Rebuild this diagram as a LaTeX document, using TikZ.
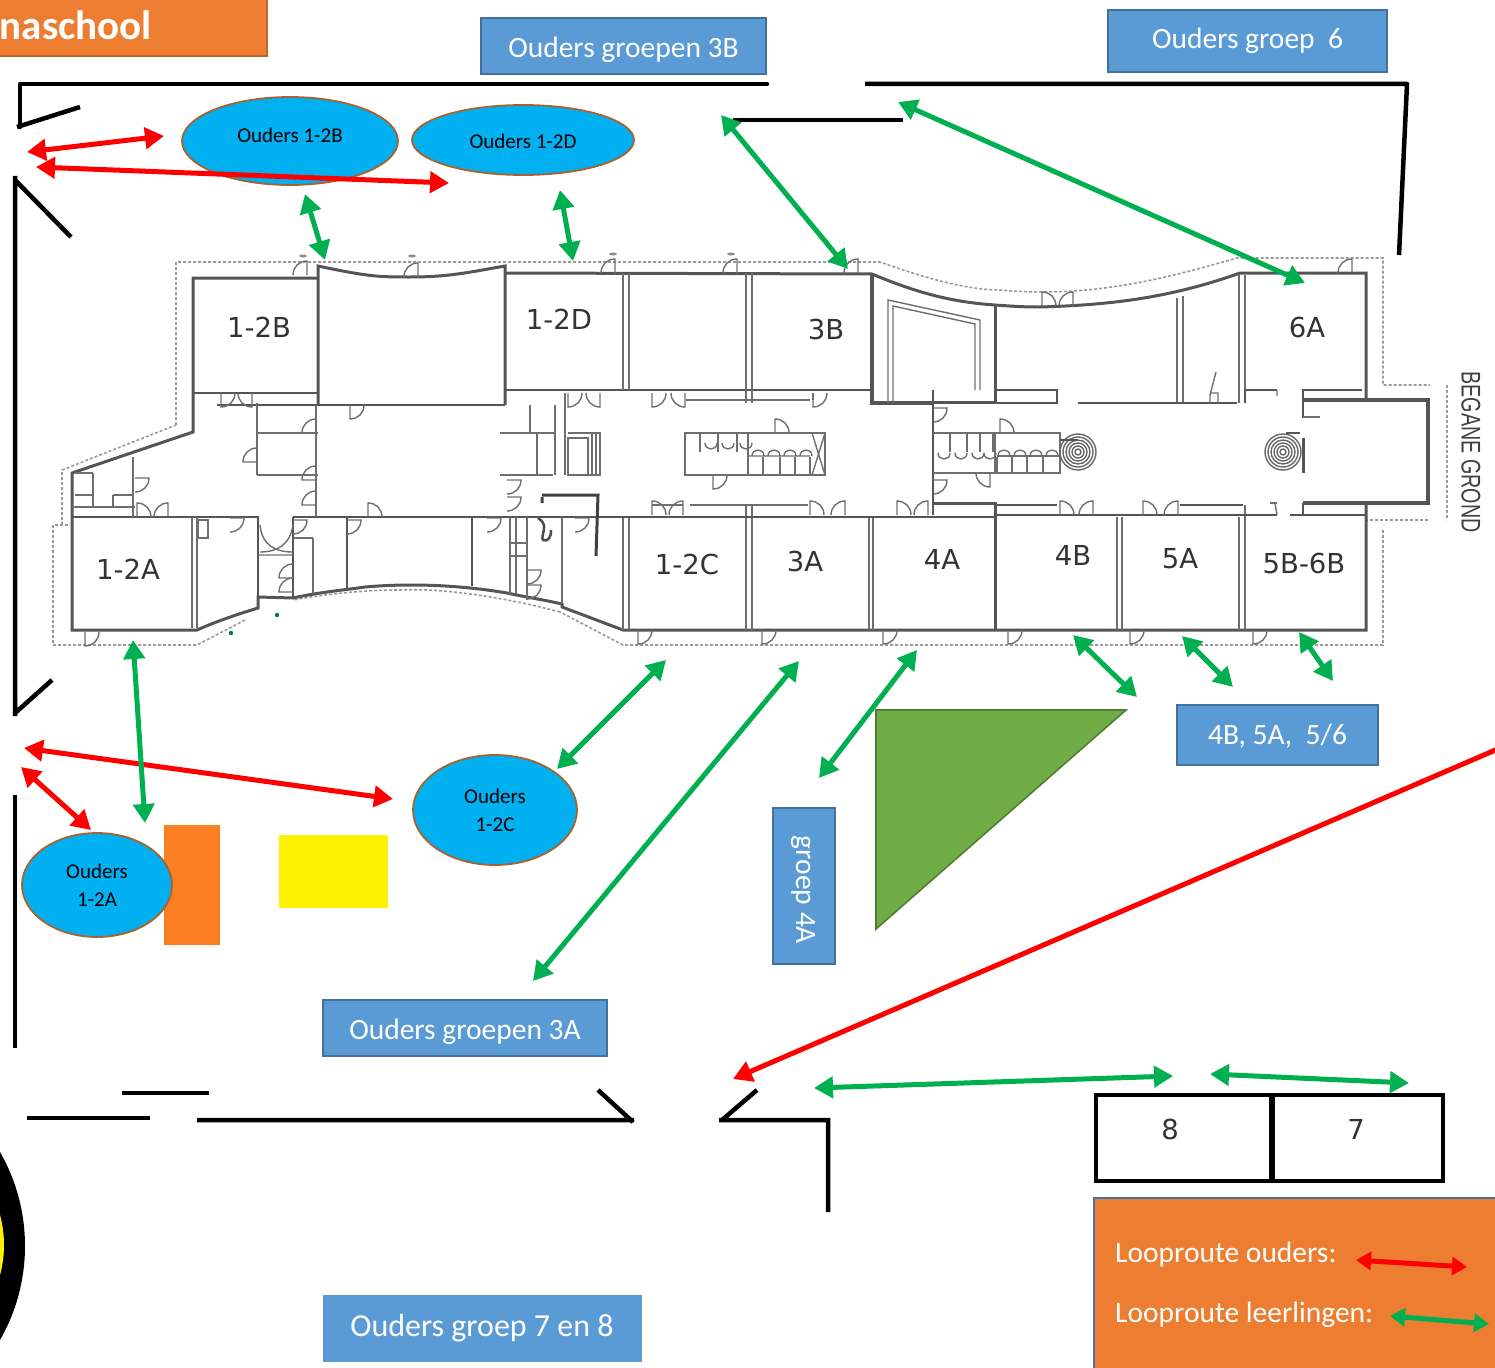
\documentclass[tikz,border=0pt]{standalone}
\usepackage{fontspec}
\setmainfont{Carlito}
\newfontfamily\planfont{DejaVu Sans}
\newfontfamily\narrowfont{Liberation Sans}
\usetikzlibrary{arrows.meta,shapes.geometric}
\definecolor{boxblue}{HTML}{5B9BD5}
\definecolor{boxblueline}{HTML}{41719C}
\definecolor{legorange}{HTML}{ED7D31}
\definecolor{legorangeline}{HTML}{C0652A}
\definecolor{ovalblue}{HTML}{00B0F0}
\definecolor{ovalline}{HTML}{A9622D}
\definecolor{routegreen}{HTML}{00B050}
\definecolor{routered}{HTML}{FF0000}
\definecolor{tricol}{HTML}{70AD47}
\definecolor{triline}{HTML}{507E32}
\definecolor{wallgray}{HTML}{555555}
\definecolor{thingray}{HTML}{6E6E6E}
\definecolor{dashgray}{HTML}{9A9A9A}
\definecolor{blockorange}{HTML}{FD7F23}
\definecolor{blockyellow}{HTML}{FFF200}
\tikzset{
  bluebox/.style={draw=boxblueline,line width=1.6pt,fill=boxblue,text=white,minimum width=#1,inner sep=0pt},
  boxtext/.style={text=white,inner sep=0pt,font=\fontsize{29.5}{34}\selectfont},
  oval/.style={ellipse,draw=ovalline,line width=1.8pt,fill=ovalblue,inner sep=0pt,align=center,font=\fontsize{21}{28}\selectfont},
  blackwall/.style={line width=4.5pt,black},
  routeg/.style={line width=5pt,routegreen,{Triangle[length=19pt,width=21pt]}-{Triangle[length=19pt,width=21pt]}},
  router/.style={line width=5pt,routered,{Triangle[length=19pt,width=21pt]}-{Triangle[length=19pt,width=21pt]}},
  wallm/.style={line width=3pt,wallgray},
  midwall/.style={line width=2.2pt,wallgray},
  thinw/.style={line width=1.4pt,thingray},
  outl/.style={line width=1.6pt,dashgray,dash pattern=on 3pt off 2pt},
  room/.style={font=\planfont\fontsize{27.5}{32}\selectfont,text=black!80,inner sep=0pt},
}
\newcommand{\doorat}[4]{\draw[thinw,shift={(#1,#2)},rotate=#3,xscale=#4] (0,0)--(0,-14) .. controls (8,-14) and (14,-8) .. (14,0);}
\newcommand{\cupat}[3]{\draw[thinw] (#1,#2) .. controls (#1,#2+#3) and (#1+12,#2+#3) .. (#1+12,#2);}
\begin{document}
\begin{tikzpicture}[x=1pt,y=-1pt]
\useasboundingbox (0,0) rectangle (1495,1367);
\begin{scope}
\clip (0,0) rectangle (1495,1367);

% ---------- floor plan: dashed outline
\draw[outl] (176,425)--(176,262)--(880,262) .. controls (930,280) and (970,290) .. (1000,290)
  .. controls (1090,298) and (1160,280) .. (1237,258)--(1383,258)--(1383,385)--(1430,385);
\draw[outl] (1447,385)--(1447,520);
\draw[outl] (1365,520)--(1430,520);
\draw[outl] (1383,530)--(1383,645)--(623,645)--(560,612);
\draw[outl] (560,612) .. controls (500,596) and (440,588) .. (400,590) .. controls (360,590) and (320,595) .. (293,600);
\draw[outl] (245,620)--(197,645)--(53,645)--(53,525)--(70,525);
\draw[outl] (62,525)--(62,470)--(176,425);

% ---------- floor plan: outer walls
\draw[wallm] (318,278)--(193,278)--(193,432)--(72,473)--(72,630)--(197,630)
  .. controls (215,622) and (235,615) .. (258,608)--(258,597)--(293,598)
  .. controls (320,592) and (345,590) .. (365,587) .. controls (410,583) and (460,585) .. (507,593)
  .. controls (525,597) and (545,600) .. (562,604)--(562,607)--(623,630)--(1366,630)--(1366,505)
  (1366,398)--(1366,273)--(1240,273)
  .. controls (1170,298) and (1110,305) .. (1040,307) .. controls (1020,307) and (1010,306) .. (995,305)
  .. controls (950,302) and (915,292) .. (872,274)--(505,273);
\draw[line width=4pt,wallgray] (1303,400)--(1428,400)--(1428,503)--(1303,503);
\draw[wallm] (318,405)--(318,266) .. controls (370,277) and (380,277) .. (410,277) .. controls (450,277) and (470,272) .. (505,266)--(505,405);
\draw[line width=4pt,wallgray] (872,274)--(872,403)--(933,403);
\draw[wallm] (995,305)--(995,402)--(933,402);
\draw[wallm] (933,503)--(995,503)--(995,630);
\draw[midwall] (193,393)--(318,393);
\draw[midwall] (505,390)--(872,390);
\draw[midwall] (257,405)--(505,405);

% ---------- floor plan: partitions
\draw[thinw] (623,273)--(623,390) (629,273)--(629,390) (746,273)--(746,403) (752,273)--(752,403);
\draw[thinw] (623,517)--(623,630) (629,517)--(629,630) (746,506)--(746,630) (752,506)--(752,630);
\draw[thinw] (869,517)--(869,630) (873,517)--(873,630) (1117,517)--(1117,630) (1122,517)--(1122,630);
\draw[thinw] (1239,517)--(1239,630) (1245,505)--(1245,630);
\draw[thinw] (1177,298)--(1177,403) (1183,296)--(1183,403) (1239,275)--(1239,403) (1245,275)--(1245,403);
\draw[midwall] (1078,403)--(1237,403) (1245,403)--(1245,390)--(1277,390);
\draw[midwall] (1303,418)--(1303,390)--(1362,390);
\draw[line width=3pt,wallgray] (1303,438)--(1303,473);
\draw[midwall] (1303,503)--(1303,515) (1290,515)--(1366,515);
\draw[midwall] (997,515)--(1277,515) (997,505)--(1057,505) (1180,505)--(1243,505);
\draw[midwall] (997,390)--(1057,390)--(1057,403)--(997,403);
\draw[thinw] (888,403)--(888,300)--(980,320)--(980,390) (893,403)--(893,306)--(975,324)--(975,390);
\draw[midwall] (933,390)--(933,515);
\draw[midwall] (293,517)--(997,517);
\draw[thinw] (686,400)--(810,400) (813,400)--(813,393);
\draw[thinw] (652,505)--(683,505) (690,505)--(808,505);
% left zones
\draw[midwall] (72,517)--(258,517)--(258,597) (293,517)--(293,598);
\draw[thinw] (192,517)--(192,628) (197,517)--(197,628) (313,538)--(313,594) (293,538)--(313,538);
\draw[thinw] (198,520) rectangle (208,538);
\draw[thinw] (260,525) .. controls (262,545) and (275,552) .. (293,552) (293,525) .. controls (290,545) and (277,552) .. (260,552) (258,555)--(293,555);
\draw[midwall] (347,517)--(347,590) (472,517)--(472,586);
\draw[thinw] (510,517)--(510,594) (516,517)--(516,594) (527,517)--(527,600) (562,517)--(562,604);
\draw[thinw] (510,543)--(527,543) (510,556)--(527,556);
\draw[thinw] (72,507)--(135,507) (133,457)--(133,517) (93,473)--(93,507) (75,473)--(93,473) (75,495)--(93,495) (113,495)--(133,495) (113,495)--(113,507);
\draw[midwall] (217,405)--(318,405);
\draw[thinw] (257,403)--(257,475) (257,433)--(318,433) (257,475)--(318,475) (316,405)--(316,517);
\draw[thinw] (500,433)--(555,433) (500,475)--(553,475) (537,433)--(537,475) (555,405)--(555,433) (555,433)--(555,475) (565,393)--(565,475) (530,405)--(530,433);
\draw[thinw] (568,433)--(600,433)--(600,475)--(588,475)--(588,438)--(568,438)--(568,475)--(588,475);
\draw[thinw] (592,433)--(592,475) (596,433)--(596,475);
\draw[line width=3pt,black!75] (542,497)--(542,503) (542,495)--(598,495)--(596,556);
\draw[line width=2.5pt,black!70] (538,518) .. controls (550,525) and (540,535) .. (543,540) .. controls (548,543) and (552,535) .. (551,530);
% toilet blocks
\draw[thinw] (685,433)--(825,433)--(825,475)--(685,475)--cycle (748,433)--(748,475);
\foreach \xa in {700,718,737} \draw[thinw] (\xa,433)--(\xa,452);
\foreach \xa in {763,780,795,810} \draw[thinw] (\xa,457)--(\xa,475);
\draw[thinw] (748,456)--(810,456) (812,433)--(825,475) (825,433)--(812,475);
\draw[thinw] (933,433)--(1060,433)--(1060,473)--(933,473);
\foreach \xa in {950,967,980,993} \draw[thinw] (\xa,433)--(\xa,452);
\foreach \xa in {997,1012,1027,1043} \draw[thinw] (\xa,457)--(\xa,473);
\draw[thinw] (995,433)--(995,473) (997,456)--(1060,456);
\foreach \ra in {3,6,9,12,15,18} {
  \draw[line width=1.4pt,black!60] (1078,452) circle (\ra);
  \draw[line width=1.4pt,black!60] (1283,452) circle (\ra);
}
\draw[line width=2pt,wallgray] (1060,440)--(1078,440) (1300,433)--(1286,433);
\draw[thinw] (1216,372)--(1210,395)--(1210,403) (1210,393)--(1218,393)--(1218,403);

% ---------- floor plan: doors
\foreach \xa/\ya in {307/275,418/277,615/273,737/273,858/273,1352/273} {\doorat{\xa}{\ya}{0}{-1}}
\foreach \xa/\ya in {638/630,762/630,883/630,1008/630,1130/630,1253/630,85/632} {\doorat{\xa}{\ya}{180}{-1}}
\foreach \xa/\ya in {221/393,568/393,652/393,813/393,350/405,713/475} {\doorat{\xa}{\ya}{180}{-1}}
\foreach \xa/\ya in {252/393,600/393,685/393,990/473} {\doorat{\xa}{\ya}{180}{1}}
\foreach \xa/\ya in {137/517,652/515,810/515,897/515,1060/515,1143/515,1042/306,368/517,775/433,1000/433} {\doorat{\xa}{\ya}{0}{1}}
\foreach \xa/\ya in {168/517,683/515,845/515,928/515,1093/515,1178/515,1073/306} {\doorat{\xa}{\ya}{0}{-1}}
\foreach \xa/\ya in {316/433,257/462,316/480,316/505,293/578,293/592} {\doorat{\xa}{\ya}{90}{1}}
\foreach \xa/\ya in {135/478,230/518,293/520,347/520,487/518,575/518,507/480,507/497,527/570,527/585,933/408,933/480} {\doorat{\xa}{\ya}{270}{1}}
\foreach \xa in {705,722,740} {\cupat{\xa}{443}{8}}
\foreach \xa in {752,768,784,800} {\cupat{\xa}{456}{-8}}
\foreach \xa in {938,955,972,984} {\cupat{\xa}{453}{8}}
\foreach \xa in {998,1014,1030,1046} {\cupat{\xa}{456}{-8}}
\draw[thinw] (1277,390)--(1277,396) (1275,503)--(1277,515);
\draw[thinw] (1303,417)--(1320,417) (1270,503)--(1277,503);
\foreach \xa/\ya in {303/256,412/256,613/254,731/254} {\fill[black!45] (\xa,\ya) ellipse (4 and 1.5);}
\fill[routegreen!70!black] (277,615) circle (2.2) (231,633) circle (2.2);

% ---------- room labels
\node[room] (r12b) at (259,327) {1-2B};
\node[room] (r12d) at (559,319) {1-2D};
\node[room] (r3b) at (826,329) {3B};
\node[room] (r6a) at (1307,327) {6A};
\node[room] (r12a) at (128,569) {1-2A};
\node[room] (r12c) at (687,564) {1-2C};
\node[room] (r3a) at (805,561) {3A};
\node[room] (r4a) at (942,559) {4A};
\node[room] (r4b) at (1073,555) {4B};
\node[room] (r5a) at (1180,559) {5A};
\node[room] (r56) at (1304,563) {5B-6B};
\node[rotate=-90,text=black!75,inner sep=0pt,font=\narrowfont\fontsize{27}{30}\selectfont,xscale=.73] (gg) at (1471,452) {BEGANE GROND};
\node[room] (n8) at (1170,1129) {8};
\node[room] (n7) at (1356,1129) {7};

% ---------- schoolyard walls
\draw[blackwall,line cap=round,line join=round] (20,127)--(20,84)--(767,84);
\draw[blackwall] (17,127)--(80,107);
\draw[blackwall,line join=round] (865,84)--(1407,84)--(1399,255);
\draw[blackwall] (733,120)--(903,120);
\draw[blackwall] (15,176)--(15,716) (15,180)--(71,237) (14,714)--(52,680);
\draw[blackwall] (15,795)--(15,1048);
\draw[blackwall] (27,1118)--(150,1118) (122,1093)--(209,1093);
\draw[blackwall] (197,1120)--(634,1120) (633,1122)--(598,1090);
\draw[blackwall,line join=miter] (719,1120)--(828,1120)--(828,1212) (722,1120)--(757,1090);
\draw[line width=4.5pt,black] (1096,1095) rectangle (1443,1181);
\draw[line width=6pt,black] (1272,1095)--(1272,1181);

% ---------- shapes
\fill[black] (-164,1246) circle (189);
\fill[blockyellow] (-110,1245) circle (114);
\fill[blockorange] (164,825) rectangle (220,945);
\fill[blockyellow] (279,835) rectangle (388,908);
\draw[triline,line width=1.6pt,fill=tricol] (876,710)--(1126,710)--(876,929)--cycle;

% ---------- boxes
\draw[draw=legorangeline,line width=2pt,fill=legorange] (-6,-6) rectangle (267,56);
\node[anchor=east,text=white,inner sep=0pt,font=\bfseries\fontsize{41}{46}\selectfont] (title) at (152,25) {naschool};
\node[bluebox=285pt,minimum height=56pt] (b3b) at (623.5,46) {};
\node[boxtext] (t3b) at (623.5,49.5) {Ouders groepen 3B};
\node[bluebox=279pt,minimum height=62pt] (b6) at (1247.5,41) {};
\node[boxtext] (t6) at (1247.5,40.5) {Ouders groep\ \ 6};
\node[bluebox=201pt,minimum height=60pt] (b456) at (1277.5,735) {};
\node[boxtext] (t456) at (1277.5,736.5) {4B, 5A,\ \ 5/6};
\node[bluebox=62pt,minimum height=156pt] (b4a) at (804,886) {};
\node[boxtext,rotate=-90] (t4a) at (803,890) {groep 4A};
\node[bluebox=284pt,minimum height=56pt] (b3a) at (465,1028) {};
\node[boxtext] (t3a) at (465,1031.5) {Ouders groepen 3A};
\node[draw=boxblue,fill=boxblue,minimum width=318pt,minimum height=66pt,inner sep=0pt] (b78) at (482,1328) {};
\node[boxtext,font=\fontsize{32}{36}\selectfont] (t78) at (482,1328.5) {Ouders groep 7 en 8};
\draw[draw=boxblueline,line width=1.6pt,fill=legorange] (1094,1198) rectangle (1510,1380);
\node[boxtext,anchor=west] (lo) at (1115,1254.5) {Looproute ouders:};
\node[boxtext,anchor=west] (ll) at (1115,1314.5) {Looproute leerlingen:};

% ---------- ovals
\node[oval,minimum width=216pt,minimum height=88pt] (o2b) at (290,141) {};
\node[font=\fontsize{21}{24}\selectfont,inner sep=0pt] (o2bt) at (290,135) {Ouders 1-2B};
\node[oval,minimum width=222pt,minimum height=70pt] (o2d) at (523,140) {};
\node[font=\fontsize{21}{24}\selectfont,inner sep=0pt] (o2dt) at (523,141) {Ouders 1-2D};
\node[oval,minimum width=164pt,minimum height=110pt] (o2c) at (495,810) {Ouders\\1-2C};
\node[oval,minimum width=150pt,minimum height=104pt] (o2a) at (97,885) {Ouders\\1-2A};

% ---------- route ends
\coordinate (ra1) at (27,152);   \coordinate (ra2) at (164,136);
\coordinate (rb1) at (36,167);   \coordinate (rb2) at (449,183);
\coordinate (rc1) at (24,748);   \coordinate (rc2) at (393,799);
\coordinate (rd1) at (21,767);   \coordinate (rd2) at (91,830);
\coordinate (re1) at (733,1079); \coordinate (re2) at (1500,748);
\coordinate (rf1) at (1356,1260);\coordinate (rf2) at (1467,1267);
\coordinate (gf1) at (1390,1316);\coordinate (gf2) at (1489,1324);
\coordinate (g1a) at (305,194);  \coordinate (g1b) at (325,260);
\coordinate (g2a) at (560,190);  \coordinate (g2b) at (573,261);
\coordinate (g3a) at (721,115);  \coordinate (g3b) at (848,269);
\coordinate (g4a) at (898,102);  \coordinate (g4b) at (1305,283);
\coordinate (g5a) at (133,640);  \coordinate (g5b) at (145,823);
\coordinate (g6a) at (666,660);  \coordinate (g6b) at (557,769);
\coordinate (g7a) at (799,661);  \coordinate (g7b) at (533,981);
\coordinate (g8a) at (917,650);  \coordinate (g8b) at (819,778);
\coordinate (g9a) at (1073,635); \coordinate (g9b) at (1137,697);
\coordinate (g10a) at (1182,636);\coordinate (g10b) at (1233,687);
\coordinate (g11a) at (1299,632);\coordinate (g11b) at (1333,681);
\coordinate (g12a) at (814,1088);\coordinate (g12b) at (1173,1076);
\coordinate (g13a) at (1210,1074);\coordinate (g13b) at (1409,1083);

% ---------- routes
\draw[router] (ra1)--(ra2);
\draw[router] (rb1)--(rb2);
\draw[router] (rc1)--(rc2);
\draw[router] (rd1)--(rd2);
\draw[line width=5pt,routered,{Triangle[length=19pt,width=21pt]}-] (re1)--(re2);
\draw[line width=5pt,routered,{Triangle[length=15pt,width=18pt]}-{Triangle[length=15pt,width=18pt]}] (rf1)--(rf2);
\draw[line width=5pt,routegreen,{Triangle[length=15pt,width=18pt]}-{Triangle[length=15pt,width=18pt]}] (gf1)--(gf2);
\foreach \na in {1,...,13} {\draw[routeg] (g\na a)--(g\na b);}
\end{scope}
\end{tikzpicture}
\end{document}
